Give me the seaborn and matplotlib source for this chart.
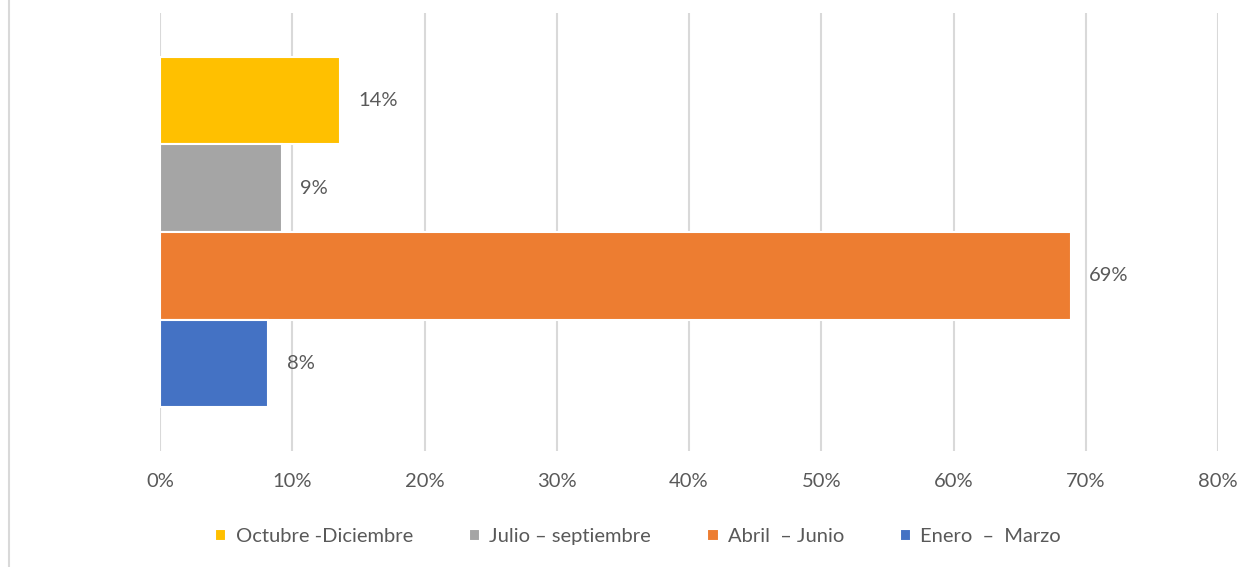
import pandas as pd
import matplotlib.pyplot as plt
import seaborn as sns
from matplotlib.lines import Line2D
from matplotlib.ticker import PercentFormatter

# ── 데이터 ────────────────────────────────────────────────────────────
periods = ['Octubre -Diciembre', 'Julio – septiembre', 'Abril  – Junio', 'Enero  –  Marzo']
shares  = [0.136, 0.092, 0.689, 0.082]
colors  = ['#FFC000', '#A5A5A5', '#ED7D31', '#4472C4']
x_ticks = [0, 0.1, 0.2, 0.3, 0.4, 0.5, 0.6, 0.7, 0.8]

TEXT_COLOR = '#595959'
GRID_COLOR = '#D9D9D9'
FS         = 14.5

sns.set_style('white')
plt.rcParams['font.family'] = ['Lato', 'DejaVu Sans']

df = pd.DataFrame({'grupo': [''] * len(periods), 'periodo': periods, 'valor': shares})

fig = plt.figure(figsize=(12.56, 5.67), dpi=100)
ax = fig.add_axes([160 / 1256, 1 - 451 / 567, (1218 - 160) / 1256, (451 - 13) / 567])

sns.barplot(data=df, x='valor', y='grupo', hue='periodo', hue_order=periods,
            palette=colors, saturation=1, orient='h', width=0.8, edgecolor='white',
            linewidth=1.5, ax=ax, zorder=3)

for cont in ax.containers:
    ax.bar_label(cont, labels=[f'{v:.0%}' for v in cont.datavalues],
                 padding=13, fontsize=FS, color=TEXT_COLOR)

ax.set_xlim(0, 0.8)
ax.set_ylim(0.5, -0.5)
ax.set_xticks(x_ticks)
ax.xaxis.set_major_formatter(PercentFormatter(1.0, decimals=0))
ax.tick_params(axis='x', length=0, pad=16, labelsize=FS, labelcolor=TEXT_COLOR)
ax.set_yticks([])
ax.set_xlabel('')
ax.set_ylabel('')
ax.grid(axis='x', color=GRID_COLOR, linewidth=1.5, zorder=0)
ax.set_axisbelow(True)
sns.despine(ax=ax, left=True, bottom=True)

handles, labels = ax.get_legend_handles_labels()
ax.legend(handles, labels, loc='center', bbox_to_anchor=(0.452, -0.195), ncol=4,
          frameon=False, fontsize=FS, labelcolor=TEXT_COLOR,
          handlelength=0.55, handleheight=0.55, handletextpad=0.45, columnspacing=2.8)

# borde izquierdo del gráfico
fig.add_artist(Line2D([9 / 1256, 9 / 1256], [0, 1], transform=fig.transFigure,
                      color=GRID_COLOR, linewidth=1.5))

plt.savefig('out.png', dpi=100)
